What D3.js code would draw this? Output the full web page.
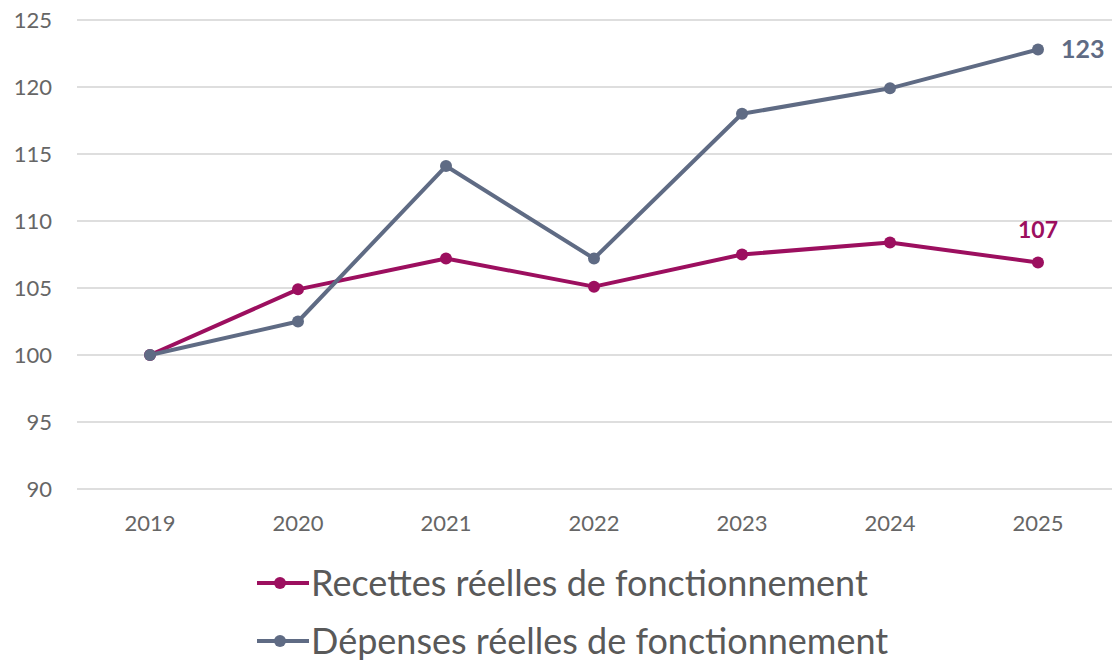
<!DOCTYPE html>
<html><head><meta charset="utf-8">
<script src="https://cdn.jsdelivr.net/npm/d3@7"></script>
<style>body{margin:0;background:#fff;}svg{display:block;}</style>
</head><body>
<svg id="c" width="1114" height="662"></svg>
<script>
const years = ["2019","2020","2021","2022","2023","2024","2025"];
const recettes = [100, 104.9, 107.2, 105.1, 107.5, 108.4, 106.9];
const depenses = [100, 102.5, 114.1, 107.2, 118.0, 119.9, 122.8];
const yTicks = [90, 95, 100, 105, 110, 115, 120, 125];
const seriesNames = ["Recettes réelles de fonctionnement", "Dépenses réelles de fonctionnement"];
const colors = ["#9c0f5f", "#5f6b84"];

const svg = d3.select("#c");
const font = "Lato, 'Open Sans', sans-serif";
const x = d3.scaleBand().domain(years).range([76, 1112]);
const y = d3.scaleLinear().domain([90, 125]).range([489, 20]);

// gridlines
svg.append("g").selectAll("line").data(yTicks).join("line")
  .attr("x1", 77).attr("x2", 1112)
  .attr("y1", d => y(d)).attr("y2", d => y(d))
  .attr("stroke", "#dedede").attr("stroke-width", 2);

// y axis
const yAxis = d3.axisLeft(y).tickValues(yTicks).tickSize(0).tickPadding(0);
const gy = svg.append("g").attr("transform", "translate(52,0)").call(yAxis);
gy.select(".domain").remove();
gy.selectAll("text").attr("font-family", font).attr("font-size", 22).attr("fill", "#666666");

// x axis
const xAxis = d3.axisBottom(x).tickSize(0).tickPadding(0);
const gx = svg.append("g").attr("transform", "translate(0,515)").call(xAxis);
gx.select(".domain").remove();
gx.selectAll("text").attr("font-family", font).attr("font-size", 22).attr("fill", "#666666");

const cx = d => x(d) + x.bandwidth() / 2;
const line = d3.line().x((d, i) => cx(years[i])).y(d => y(d));

[recettes, depenses].forEach((vals, k) => {
  svg.append("path").datum(vals).attr("d", line)
    .attr("fill", "none").attr("stroke", colors[k]).attr("stroke-width", 4)
    .attr("stroke-linejoin", "round");
  svg.append("g").selectAll("circle").data(vals).join("circle")
    .attr("cx", (d, i) => cx(years[i])).attr("cy", d => y(d)).attr("r", 6)
    .attr("fill", colors[k]);
});

// end labels
const last = years.length - 1;
svg.append("text").attr("x", cx(years[last]) + 23).attr("y", y(depenses[last]))
  .attr("dy", "0.35em").attr("font-family", font).attr("font-weight", "bold")
  .attr("font-size", 25).attr("fill", "#5f6b84").text(Math.round(depenses[last]));
svg.append("text").attr("x", cx(years[last])).attr("y", y(recettes[last]) - 33)
  .attr("text-anchor", "middle").attr("dy", "0.35em").attr("font-family", font).attr("font-weight", "bold")
  .attr("font-size", 23).attr("fill", "#9c0f5f").text(Math.round(recettes[last]));

// legend
seriesNames.forEach((name, k) => {
  const ly = 583 + k * 58;
  const g = svg.append("g");
  g.append("line").attr("x1", 257).attr("x2", 309).attr("y1", ly).attr("y2", ly)
    .attr("stroke", colors[k]).attr("stroke-width", 4);
  g.append("circle").attr("cx", 280).attr("cy", ly).attr("r", 6).attr("fill", colors[k]);
  g.append("text").attr("x", 311).attr("y", ly).attr("dy", "0.35em")
    .attr("font-family", font).attr("font-size", 36).attr("fill", "#595959").text(name);
});
</script>
</body></html>
